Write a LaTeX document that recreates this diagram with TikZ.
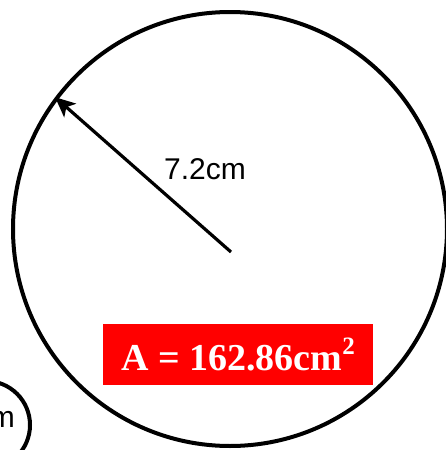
\documentclass[tikz,border=0pt]{standalone}
\usepackage{fontspec}
\setmainfont{Liberation Sans}
\newfontfamily\serifbold{Liberation Serif}
\usetikzlibrary{arrows.meta,positioning}

\begin{document}
\begin{tikzpicture}[
  x=1pt, y=-1pt,
  ring/.style={
    draw, circle, line width=4pt, inner sep=0pt
  },
  label/.style={
    font=\fontsize{30}{34}\selectfont, inner sep=0pt
  },
  areabox/.style={
    draw=none, rectangle, fill=red, text=white,
    minimum width=270pt, minimum height=61pt, inner sep=0pt,
    font=\serifbold\bfseries\fontsize{38}{42}\selectfont
  },
  radius/.style={-{Stealth[length=20pt,width=18pt,inset=5pt]}, line width=3.2pt}
]
\useasboundingbox (0,0) rectangle (446,450);

\node[ring, minimum size=434pt] (bigcircle) at (230,229) {};
\node[ring, minimum size=88pt] (smallcircle) at (-14,425) {};
\node[label, anchor=east] (smalllabel) at (15,419) {m};

\coordinate (tail) at (231,252);
\draw[radius] (tail) -- (bigcircle.143.5);
\node[label] (radiuslabel) at (205,169) {7.2cm};

\node[areabox] (area) at (238,354.5)
  {A = 162.86cm\raisebox{16pt}{\fontsize{25}{25}\selectfont 2}};

\end{tikzpicture}
\end{document}
